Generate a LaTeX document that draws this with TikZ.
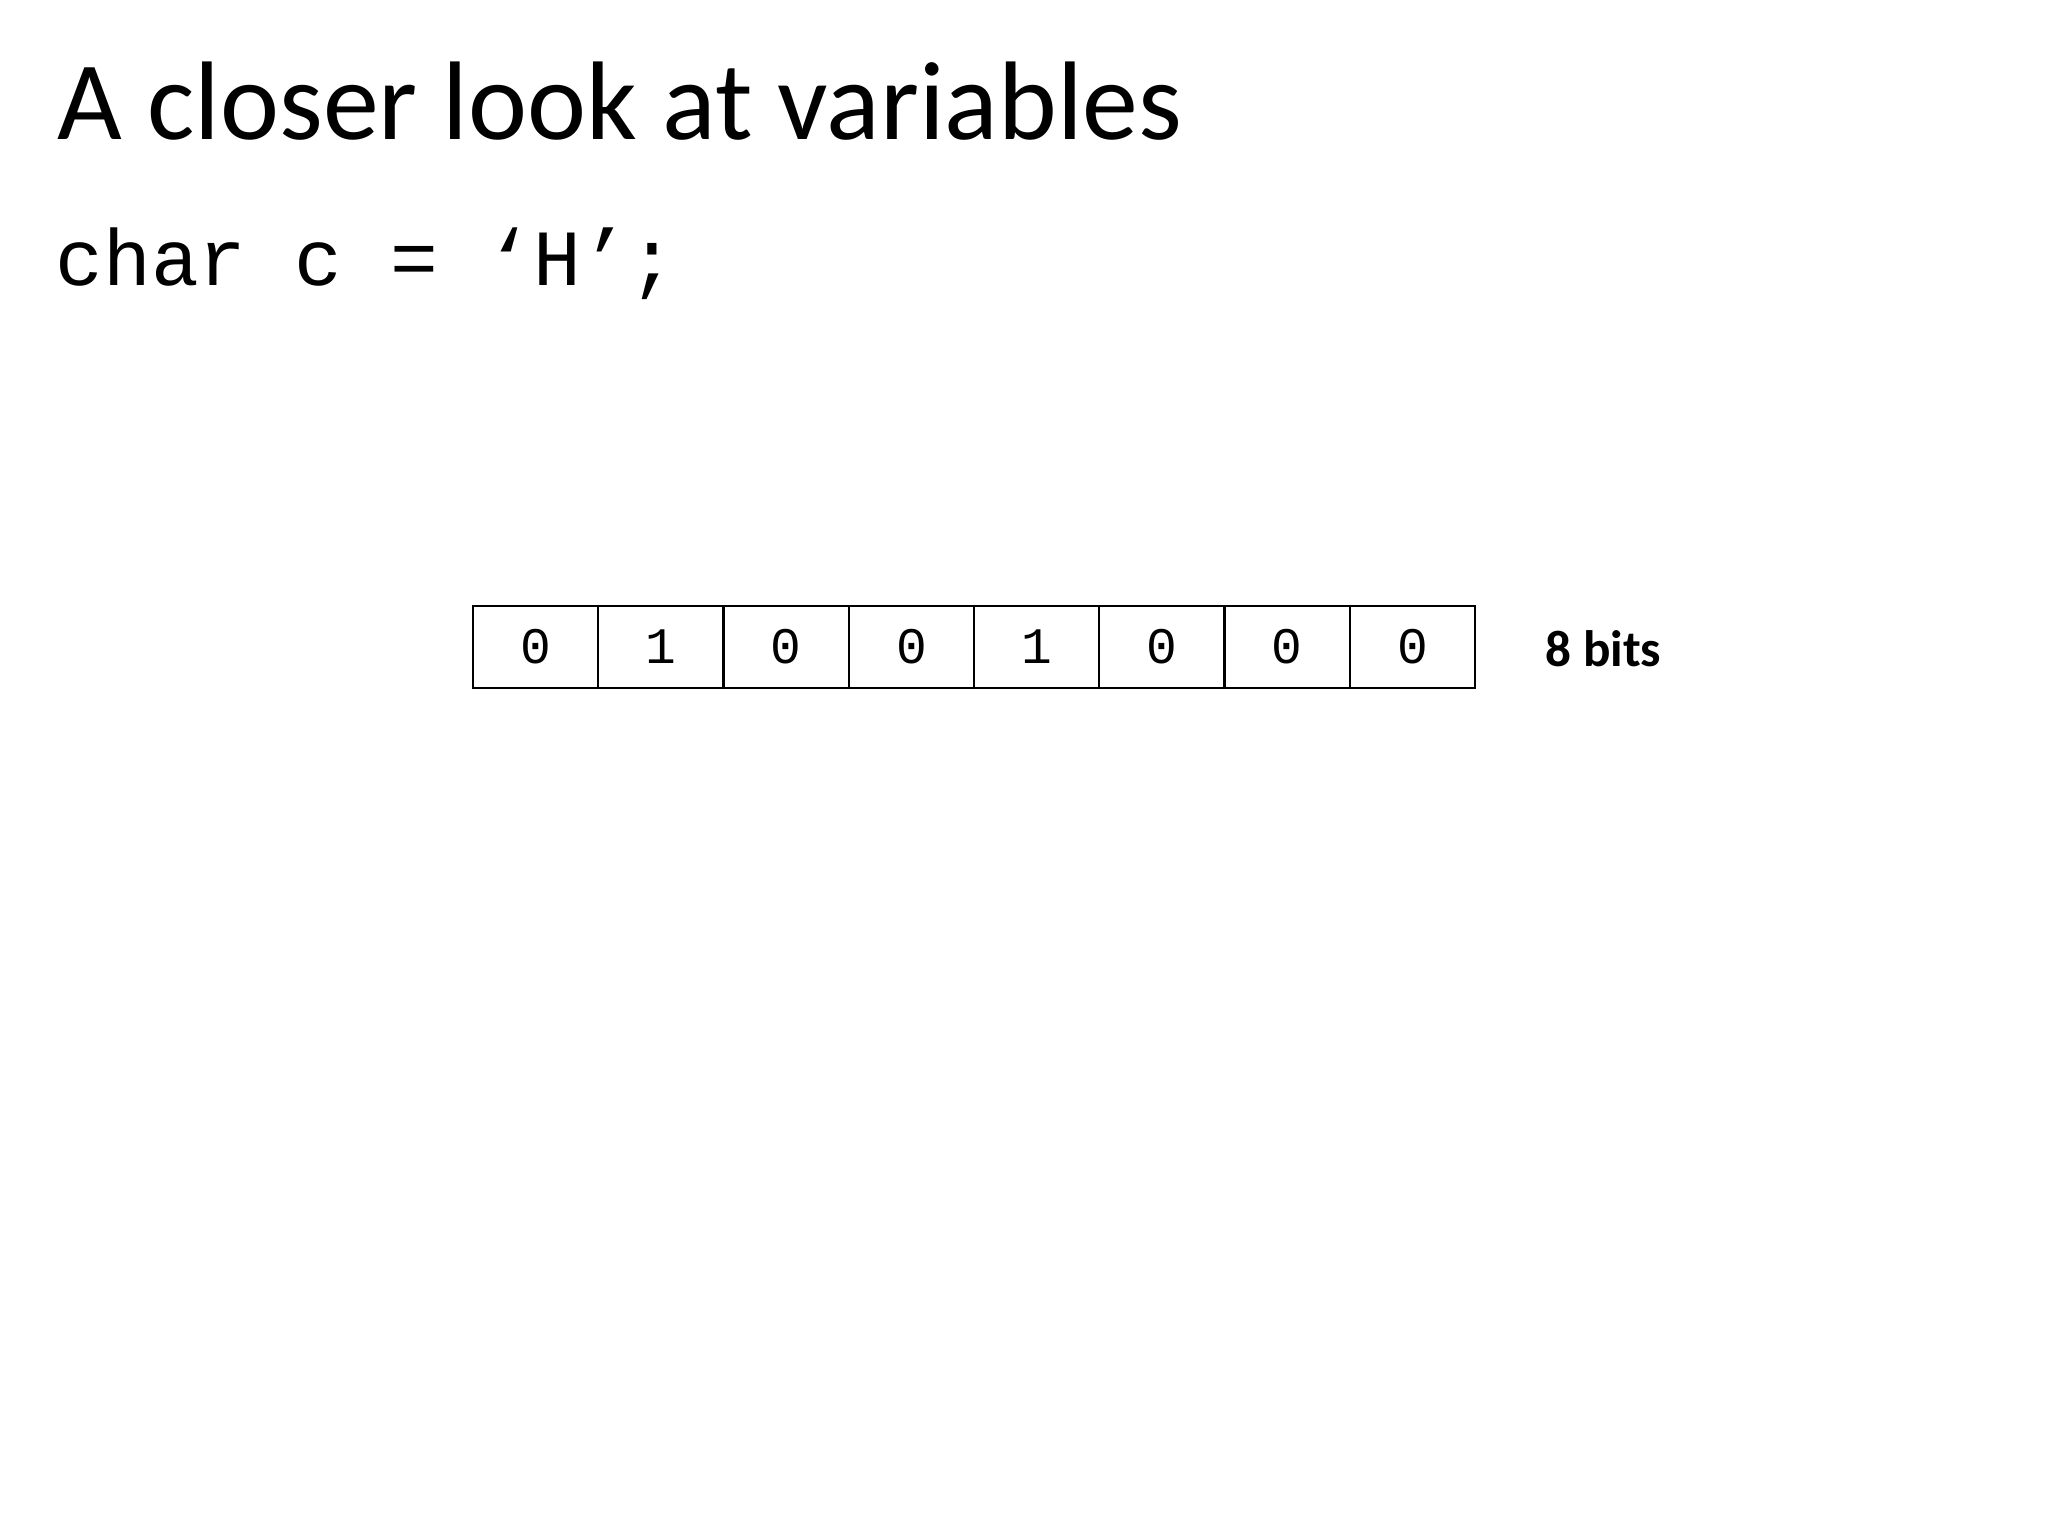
\documentclass[tikz,border=0pt]{standalone}
\usepackage{fontspec}
\setmainfont{Carlito}
\newfontfamily\codefont{Liberation Mono}

\begin{document}
\begin{tikzpicture}[x=0.3516pt,y=-0.3516pt,
	bitcell/.style={draw, line width=0.75pt, minimum width=44.04pt, minimum height=28.83pt, inner sep=0pt, font=\codefont\fontsize{18}{18}\selectfont}]
	%\draw[help lines, thick] (0,0) grid[step=100] (2048,1536);
	\useasboundingbox (0,0) rectangle (2048,1536);
	\node[anchor=base west, inner sep=0pt, font=\fontsize{39.3}{39.3}\selectfont] (title) at (57,139) {A closer look at variables};
	\node[anchor=base west, inner sep=0pt, font=\codefont\fontsize{28}{28}\selectfont] (code) at (55,285) {char c = ‘H’;};
	\node[bitcell] (b7) at (535.6,647) {0};
	\node[bitcell] (b6) at (660.9,647) {1};
	\node[bitcell] (b5) at (786.1,647) {0};
	\node[bitcell] (b4) at (911.4,647) {0};
	\node[bitcell] (b3) at (1036.6,647) {1};
	\node[bitcell] (b2) at (1161.9,647) {0};
	\node[bitcell] (b1) at (1287.1,647) {0};
	\node[bitcell] (b0) at (1412.4,647) {0};
	\node[anchor=base west, inner sep=0pt, font=\bfseries\fontsize{18}{18}\selectfont] (size) at (1545,666) {8 bits};
\end{tikzpicture}
\end{document}
